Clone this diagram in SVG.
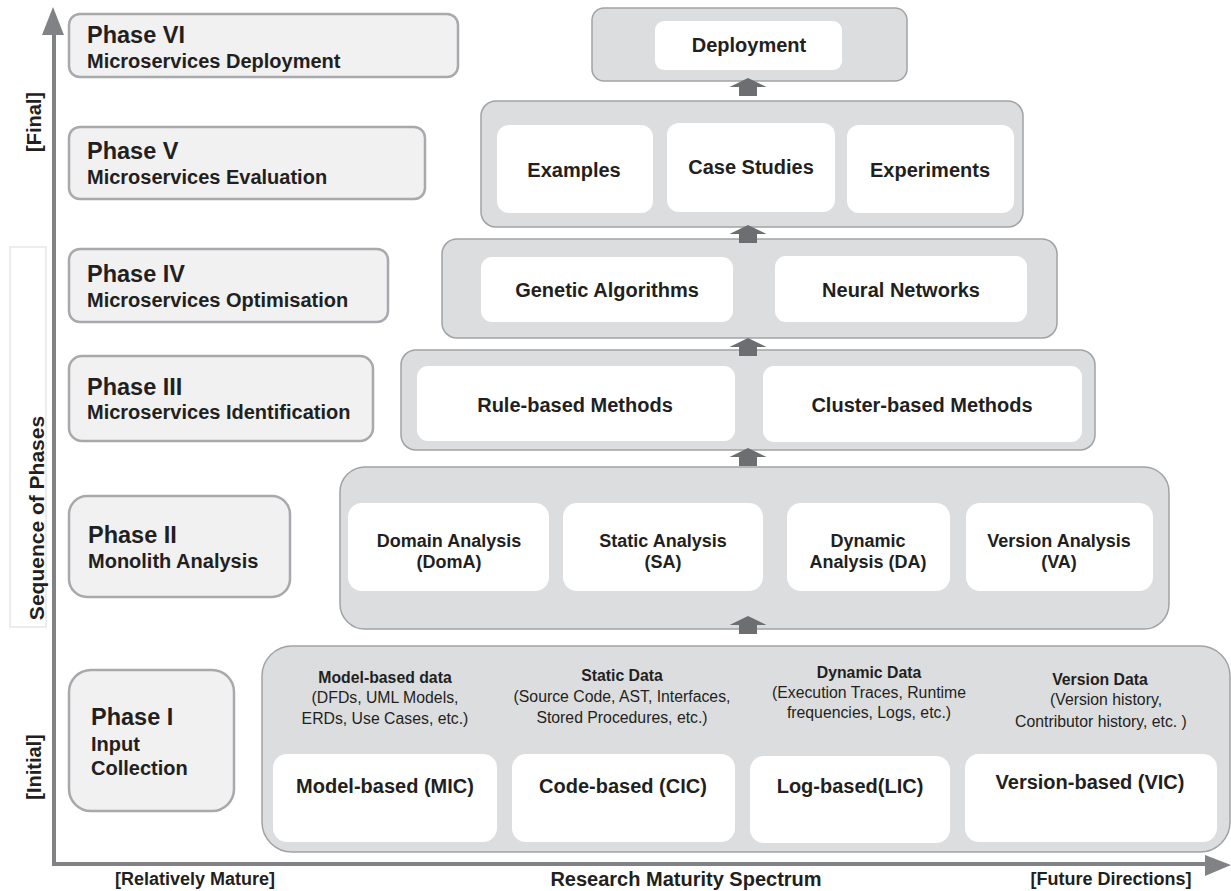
<svg xmlns="http://www.w3.org/2000/svg" width="1231" height="891" viewBox="0 0 1231 891">
<style>
text{font-family:"Liberation Sans",Arial,sans-serif;fill:#231f20}
.ph{font-size:23.5px;font-weight:bold}
.sub{font-size:20px;font-weight:bold}
.pbox{fill:#f1f1f2;stroke:#a7a9ac;stroke-width:2.5}
.tier{fill:#dcdddf;stroke:#a0a2a5;stroke-width:1.5}
.inner{fill:#ffffff}
.t20{font-size:20px;font-weight:bold;text-anchor:middle}
.t18{font-size:18px;font-weight:bold;text-anchor:middle}
.d15b{font-size:15.8px;font-weight:bold;text-anchor:middle}
.d15{font-size:15.8px;text-anchor:middle}
.axl{font-size:18px;font-weight:bold}
.up{fill:#6d6e71}
.axis{stroke:#808285;stroke-width:4;fill:none}
</style>
<defs>
<path id="uparrow" d="M0,0 L18.5,9 L9,9 L9,18 L-9,18 L-9,9 L-18.5,9 Z"/>
</defs>

<!-- axes -->
<g id="axes">
<rect x="10" y="247" width="36" height="380" fill="#ffffff" stroke="#e6e7e8" stroke-width="1.5"/>
<line class="axis" x1="54" y1="30" x2="54" y2="866"/>
<polygon points="53,7 64,35 42,35" fill="#808285"/>
<line class="axis" x1="52" y1="864" x2="1208" y2="864"/>
<polygon points="1231,865 1205,855 1205,876" fill="#808285"/>
<text class="axl" transform="translate(41,122) rotate(-90)" text-anchor="middle" style="font-size:20px">[Final]</text>
<text class="axl" transform="translate(44,518) rotate(-90)" text-anchor="middle" style="font-size:21px">Sequence of Phases</text>
<text class="axl" transform="translate(41,767) rotate(-90)" text-anchor="middle" style="font-size:20px">[Initial]</text>
<text class="axl" x="195" y="885" text-anchor="middle">[Relatively Mature]</text>
<text class="axl" x="686" y="886" text-anchor="middle" style="font-size:20px">Research Maturity Spectrum</text>
<text class="axl" x="1111" y="885" text-anchor="middle">[Future Directions]</text>
</g>

<!-- phase labels -->
<g id="phase6"><rect class="pbox" x="69" y="14" width="389" height="63" rx="11"/>
<text class="ph" x="87" y="43">Phase VI</text><text class="sub" x="87" y="68">Microservices Deployment</text></g>
<g id="phase5"><rect class="pbox" x="69" y="127" width="356" height="72" rx="11"/>
<text class="ph" x="87" y="159">Phase V</text><text class="sub" x="87" y="184">Microservices Evaluation</text></g>
<g id="phase4"><rect class="pbox" x="69" y="249" width="319" height="73" rx="11"/>
<text class="ph" x="87" y="282">Phase IV</text><text class="sub" x="87" y="307">Microservices Optimisation</text></g>
<g id="phase3"><rect class="pbox" x="69" y="356" width="304" height="85" rx="13"/>
<text class="ph" x="87" y="395">Phase III</text><text class="sub" x="87" y="419">Microservices Identification</text></g>
<g id="phase2"><rect class="pbox" x="69" y="496" width="221" height="101" rx="18"/>
<text class="ph" x="88" y="543">Phase II</text><text class="sub" x="88" y="568">Monolith Analysis</text></g>
<g id="phase1"><rect class="pbox" x="69" y="670" width="165" height="141" rx="22"/>
<text class="ph" x="91" y="725">Phase I</text><text class="sub" x="91" y="751">Input</text><text class="sub" x="91" y="775">Collection</text></g>

<!-- tiers -->
<g id="tier6"><rect class="tier" x="592" y="8" width="315" height="73" rx="12"/>
<rect class="inner" x="655" y="21" width="187" height="49" rx="9"/>
<text class="t20" x="749" y="52">Deployment</text></g>

<g id="tier5"><rect class="tier" x="481" y="101" width="542" height="126" rx="15"/>
<rect class="inner" x="497" y="125" width="156" height="88" rx="12"/>
<rect class="inner" x="667" y="123" width="168" height="89" rx="12"/>
<rect class="inner" x="847" y="125" width="167" height="88" rx="12"/>
<text class="t20" x="574" y="177">Examples</text>
<text class="t20" x="751" y="174">Case Studies</text>
<text class="t20" x="930" y="177">Experiments</text></g>

<g id="tier4"><rect class="tier" x="442" y="239" width="615" height="99" rx="15"/>
<rect class="inner" x="481" y="257" width="252" height="65" rx="11"/>
<rect class="inner" x="775" y="256" width="252" height="66" rx="11"/>
<text class="t20" x="607" y="297">Genetic Algorithms</text>
<text class="t20" x="901" y="297">Neural Networks</text></g>

<g id="tier3"><rect class="tier" x="401" y="350" width="694" height="100" rx="15"/>
<rect class="inner" x="417" y="366" width="318" height="75" rx="11"/>
<rect class="inner" x="763" y="366" width="319" height="76" rx="11"/>
<text class="t20" x="575" y="412">Rule-based Methods</text>
<text class="t20" x="922" y="412">Cluster-based Methods</text></g>

<g id="tier2"><rect class="tier" x="340" y="467" width="829" height="162" rx="25"/>
<rect class="inner" x="348" y="503" width="201" height="88" rx="14"/>
<rect class="inner" x="563" y="503" width="200" height="88" rx="14"/>
<rect class="inner" x="787" y="503" width="163" height="88" rx="14"/>
<rect class="inner" x="966" y="503" width="187" height="88" rx="14"/>
<text class="t18" x="449" y="547">Domain Analysis</text><text class="t18" x="449" y="568">(DomA)</text>
<text class="t18" x="663" y="547">Static Analysis</text><text class="t18" x="663" y="568">(SA)</text>
<text class="t18" x="868" y="547">Dynamic</text><text class="t18" x="868" y="568">Analysis (DA)</text>
<text class="t18" x="1059" y="547">Version Analysis</text><text class="t18" x="1059" y="568">(VA)</text></g>

<g id="tier1"><rect class="tier" x="262" y="646" width="968" height="206" rx="30"/>
<rect class="inner" x="273" y="754" width="224" height="88" rx="14"/>
<rect class="inner" x="512" y="754" width="223" height="88" rx="14"/>
<rect class="inner" x="750" y="756" width="200" height="87" rx="14"/>
<rect class="inner" x="965" y="754" width="252" height="88" rx="14"/>
<text class="d15b" x="385" y="683">Model-based data</text>
<text class="d15" x="385" y="703">(DFDs, UML Models,</text>
<text class="d15" x="385" y="724">ERDs, Use Cases, etc.)</text>
<text class="d15b" x="622" y="681">Static Data</text>
<text class="d15" x="622" y="702">(Source Code, AST, Interfaces,</text>
<text class="d15" x="622" y="723">Stored Procedures, etc.)</text>
<text class="d15b" x="869" y="678">Dynamic Data</text>
<text class="d15" x="869" y="698">(Execution Traces, Runtime</text>
<text class="d15" x="869" y="718">frequencies, Logs, etc.)</text>
<text class="d15b" x="1100" y="685">Version Data</text>
<text class="d15" x="1106" y="705">(Version history,</text>
<text class="d15" x="1101" y="727">Contributor history, etc. )</text>
<text class="t20" x="385" y="793">Model-based (MIC)</text>
<text class="t20" x="623" y="793">Code-based (CIC)</text>
<text class="t20" x="850" y="793">Log-based(LIC)</text>
<text class="t20" x="1090" y="789">Version-based (VIC)</text></g>

<!-- connectors -->
<g id="connectors" class="up">
<use href="#uparrow" x="748" y="78"/>
<use href="#uparrow" x="748" y="225"/>
<use href="#uparrow" x="748" y="338"/>
<use href="#uparrow" x="748" y="448"/>
<use href="#uparrow" x="748" y="616"/>
</g>
</svg>
